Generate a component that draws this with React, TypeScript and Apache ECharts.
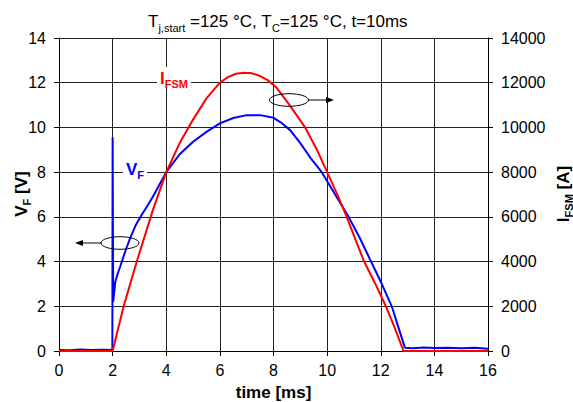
import React, { useEffect, useRef } from "react";
import * as echarts from "echarts";

// time [ms] and forward voltage V_F [V]
const vfTime = [0, 0.4, 0.8, 1.2, 1.6, 1.99, 2.0, 2.02, 2.1, 2.2, 2.28, 2.4, 2.5, 2.65, 2.85, 3.08, 3.3, 3.5, 3.75, 4.0, 4.5, 5.0, 5.5, 6.0, 6.5, 7.0, 7.5, 8.0, 8.3, 8.62, 9.0, 9.4, 9.8, 10.3, 10.8, 11.2, 11.64, 12.0, 12.41, 12.7, 12.9, 13.2, 13.6, 14.0, 14.5, 15.0, 15.5, 16.0];
const vfValues = [0.05, 0.03, 0.07, 0.04, 0.06, 0.05, 9.56, 2.2, 3.1, 3.5, 3.77, 4.2, 4.55, 5.04, 5.6, 6.08, 6.5, 6.9, 7.45, 8.0, 8.8, 9.36, 9.8, 10.18, 10.42, 10.55, 10.55, 10.43, 10.2, 9.88, 9.3, 8.6, 8.0, 7.0, 6.0, 5.1, 4.0, 3.1, 2.0, 0.9, 0.15, 0.12, 0.16, 0.13, 0.15, 0.12, 0.14, 0.1];

// time [ms] and surge current I_FSM [A]
const iTime = [0, 2.0, 2.4, 2.9, 3.5, 4.0, 4.5, 5.0, 5.5, 6.0, 6.3, 6.6, 6.9, 7.2, 7.5, 7.8, 8.1, 8.6, 9.18, 9.6, 10.0, 10.4, 10.73, 11.05, 11.38, 11.8, 12.19, 12.5, 12.85, 16.0];
const iValues = [0, 0, 1950, 4000, 6300, 8000, 9300, 10350, 11300, 12000, 12250, 12400, 12450, 12420, 12300, 12100, 11800, 11000, 10000, 9050, 8000, 6950, 6000, 5000, 4000, 3000, 2000, 1100, 0, 0];

const xTicks = { min: 0, max: 16, interval: 2 };
const vTicks = { min: 0, max: 14, interval: 2 };
const iTicks = { min: 0, max: 14000, interval: 2000 };

const FONT = "Liberation Sans, Arial, sans-serif";

export default function App() {
  const ref = useRef<HTMLDivElement>(null);
  useEffect(() => {
    if (!ref.current) return;
    const chart = echarts.init(ref.current, null, { renderer: "svg" });
    const vfData = vfTime.map((t, i) => [t, vfValues[i]]);
    const iData = iTime.map((t, i) => [t, iValues[i]]);
    const axisLine = { show: true, lineStyle: { color: "#000", width: 1 } };
    const tick = { show: true, inside: false, length: 5, lineStyle: { color: "#000" } };
    const labelStyle = { color: "#000", fontSize: 16, fontFamily: FONT, formatter: (v: number) => String(v) };
    const split = { show: true, lineStyle: { color: "#222", width: 1 } };
    const arrowColor = "#000";
    const nameRich = (fill: string, big: number, small: number) => ({
      b: { fontSize: big, fontWeight: "bold", fontFamily: FONT, fill, lineHeight: 20, verticalAlign: "bottom" },
      s: { fontSize: small, fontWeight: "bold", fontFamily: FONT, fill, lineHeight: 20, verticalAlign: "bottom", padding: [0, 0, -2, 0] },
    });
    chart.setOption({
      animation: false,
      backgroundColor: "#fff",
      title: {
        text: "{a|T}{s|j,start}{a| =125 °C, T}{s|C}{a|=125 °C, t=10ms}",
        left: 143,
        top: 5,
        textStyle: {
          fontFamily: FONT,
          fontWeight: "normal",
          rich: {
            a: { fontSize: 17, fontWeight: "normal", fontFamily: FONT, color: "#000", lineHeight: 20, verticalAlign: "bottom" },
            s: { fontSize: 11, fontWeight: "normal", fontFamily: FONT, color: "#000", lineHeight: 20, verticalAlign: "bottom", padding: [0, 0, -3, 0] },
          },
        },
      },
      grid: { left: 59, right: 85, top: 38, bottom: 51, containLabel: false, outerBoundsMode: "none" },
      xAxis: {
        type: "value",
        ...xTicks,
        name: "time [ms]",
        nameLocation: "middle",
        nameGap: 33,
        nameMoveOverlap: false,
        nameTextStyle: { fontSize: 17, fontWeight: "bold", fontFamily: FONT, color: "#000" },
        axisLine: { ...axisLine, onZero: false },
        axisTick: tick,
        axisLabel: { ...labelStyle, margin: 11 },
        splitLine: split,
      },
      yAxis: [
        {
          type: "value",
          ...vTicks,
          position: "left",
          axisLine,
          axisTick: tick,
          axisLabel: { ...labelStyle, margin: 13 },
          splitLine: split,
        },
        {
          type: "value",
          ...iTicks,
          position: "right",
          axisLine,
          axisTick: tick,
          axisLabel: { ...labelStyle, margin: 13 },
          splitLine: { show: false },
        },
      ],
      series: [
        {
          name: "VF",
          type: "line",
          yAxisIndex: 0,
          data: vfData,
          showSymbol: false,
          lineStyle: { color: "#0000ff", width: 2 },
          z: 3,
        },
        {
          name: "IFSM",
          type: "line",
          yAxisIndex: 1,
          data: iData,
          showSymbol: false,
          lineStyle: { color: "#ff0000", width: 2 },
          z: 4,
        },
      ],
      graphic: [
        {
          type: "text",
          x: 20,
          y: 194,
          rotation: Math.PI / 2,
          z: 10,
          style: {
            text: "{b|V}{s|F}{b| [V]}",
            align: "center",
            verticalAlign: "middle",
            rich: nameRich("#000", 17, 11),
          },
        },
        {
          type: "text",
          x: 562,
          y: 194,
          rotation: Math.PI / 2,
          z: 10,
          style: {
            text: "{b|I}{s|FSM}{b| [A]}",
            align: "center",
            verticalAlign: "middle",
            rich: nameRich("#000", 17, 11),
          },
        },
        {
          type: "text",
          left: 157,
          top: 67,
          z: 10,
          style: {
            text: "{b|I}{s|FSM}",
            backgroundColor: "#fff",
            padding: [0, 3, 0, 3],
            rich: nameRich("#ff0000", 17, 11),
          },
        },
        {
          type: "text",
          left: 123,
          top: 158,
          z: 10,
          style: {
            text: "{b|V}{s|F}",
            backgroundColor: "#fff",
            padding: [0, 3, 0, 3],
            rich: nameRich("#0000ff", 17, 11),
          },
        },
        {
          type: "ellipse",
          z: 10,
          shape: { cx: 120, cy: 243, rx: 19, ry: 6.3 },
          style: { fill: "none", stroke: arrowColor, lineWidth: 1 },
        },
        {
          type: "line",
          z: 10,
          shape: { x1: 101, y1: 243, x2: 82, y2: 243 },
          style: { stroke: arrowColor, lineWidth: 1 },
        },
        {
          type: "polygon",
          z: 10,
          shape: { points: [[75, 243], [83, 240], [83, 246]] },
          style: { fill: arrowColor },
        },
        {
          type: "ellipse",
          z: 10,
          shape: { cx: 289, cy: 100, rx: 19.5, ry: 6.3 },
          style: { fill: "none", stroke: arrowColor, lineWidth: 1 },
        },
        {
          type: "line",
          z: 10,
          shape: { x1: 308.5, y1: 100, x2: 326, y2: 100 },
          style: { stroke: arrowColor, lineWidth: 1 },
        },
        {
          type: "polygon",
          z: 10,
          shape: { points: [[334, 100], [326, 97], [326, 103]] },
          style: { fill: arrowColor },
        },
      ],
    });
    return () => chart.dispose();
  }, []);
  return (
    <div
      ref={ref}
      style={{ position: "absolute", left: 0, top: 0, width: 573, height: 402, background: "#fff" }}
    />
  );
}
